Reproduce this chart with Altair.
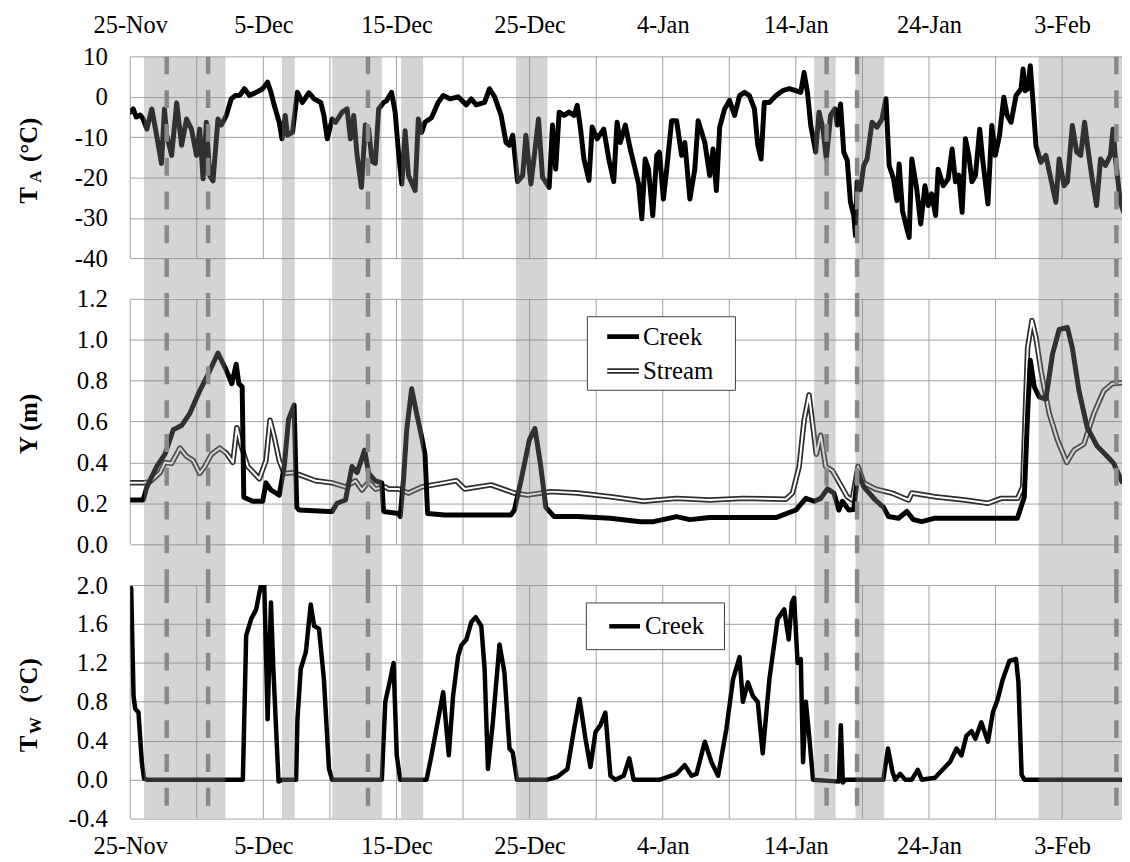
import altair as alt
import pandas as pd

# ---------------- data (days after 25-Nov, values) ----------------
BASE_DATE = "2012-11-25"

TA_DAY = [0.00, 0.22, 0.45, 0.75, 0.97, 1.25, 1.62, 2.01, 2.35, 2.57,
          2.74, 3.11, 3.49, 3.86, 4.23, 4.60, 4.98, 5.22, 5.47, 5.72,
          5.97, 6.22, 6.59, 6.84, 7.22, 7.59, 7.91, 8.21, 8.58, 8.96,
          9.46, 9.95, 10.32, 10.57, 10.82, 11.19, 11.40, 11.64, 11.81, 12.19,
          12.56, 12.93, 13.43, 13.81, 14.31, 14.55, 14.80, 15.17, 15.43, 15.92,
          16.29, 16.54, 16.79, 17.04, 17.37, 17.66, 17.91, 18.16, 18.41, 18.66,
          19.03, 19.25, 19.63, 19.90, 20.15, 20.40, 20.65, 20.90, 21.40, 21.64,
          21.89, 22.14, 22.63, 23.13, 23.51, 24.01, 24.63, 25.25, 25.62, 25.99,
          26.62, 26.99, 27.37, 27.86, 28.23, 28.49, 28.73, 29.10, 29.48, 29.72,
          30.10, 30.47, 30.67, 30.97, 31.47, 31.72, 31.96, 32.22, 32.59, 32.96,
          33.34, 33.58, 33.83, 34.08, 34.46, 34.70, 35.07, 35.57, 35.95, 36.32,
          36.57, 36.81, 37.19, 37.56, 37.93, 38.19, 38.43, 38.68, 38.93, 39.25,
          39.55, 39.75, 40.05, 40.30, 40.67, 41.04, 41.42, 41.66, 42.04, 42.41,
          42.66, 43.16, 43.53, 43.78, 44.03, 44.28, 44.65, 45.02, 45.40, 45.77,
          46.14, 46.51, 46.89, 47.14, 47.39, 47.63, 48.01, 48.51, 49.01, 49.50,
          50.00, 50.37, 50.62, 50.87, 51.12, 51.49, 51.74, 52.04, 52.29, 52.61,
          52.93, 53.11, 53.36, 53.60, 53.86, 54.10, 54.35, 54.48, 54.60, 54.85,
          55.10, 55.35, 55.72, 56.10, 56.47, 56.77, 57.01, 57.34, 57.59, 57.76,
          58.01, 58.34, 58.51, 58.71, 59.08, 59.38, 59.70, 59.95, 60.20, 60.50,
          60.69, 61.07, 61.44, 61.74, 61.99, 62.24, 62.49, 62.74, 62.99, 63.23,
          63.49, 63.81, 64.05, 64.43, 64.72, 64.98, 65.30, 65.62, 65.87, 66.17,
          66.54, 66.92, 67.07, 67.22, 67.41, 67.61, 67.78, 68.04, 68.41, 68.78,
          69.10, 69.53, 69.78, 70.15, 70.40, 70.77, 71.10, 71.40, 71.69, 71.94,
          72.26, 72.59, 72.89, 73.26, 73.63, 73.83, 74.01, 74.38, 74.63]
TA_VAL = [-3.8, -3.0, -5.0, -4.5, -5.5, -8.0, -3.0, -10.0, -16.5, -3.0,
          -9.5, -14.5, -1.5, -12.0, -5.5, -8.0, -14.5, -8.0, -20.3, -6.3,
          -19.5, -20.8, -5.5, -7.0, -4.6, -0.5, 0.3, 0.3, 2.0, 0.3,
          1.1, 2.0, 3.6, 1.1, -2.1, -6.3, -10.4, -4.6, -9.5, -8.8,
          1.1, -1.4, 1.0, -0.5, -1.4, -4.6, -10.4, -5.5, -6.3, -3.8,
          -3.0, -10.4, -4.6, -14.5, -22.4, -7.0, -8.0, -16.0, -16.5, -3.0,
          -1.4, -1.0, 1.1, -3.8, -13.7, -21.6, -8.4, -19.5, -23.2, -5.5,
          -8.8, -6.3, -5.2, -1.4, 0.3, -0.5, 0.0, -2.0, -0.5, -2.0,
          -1.4, 2.0, 0.0, -4.6, -11.3, -12.0, -9.5, -21.0, -19.5, -9.5,
          -21.6, -11.3, -5.5, -19.9, -22.4, -7.0, -17.9, -3.8, -4.6, -3.8,
          -4.6, -2.1, -8.0, -15.4, -20.7, -7.5, -10.4, -8.0, -15.4, -21.0,
          -6.3, -11.3, -7.0, -12.9, -17.9, -21.6, -30.2, -15.4, -17.9, -29.4,
          -14.5, -13.7, -25.3, -17.9, -5.9, -5.9, -14.5, -11.3, -25.3, -17.9,
          -5.9, -11.3, -19.5, -12.9, -23.2, -7.5, -3.0, -0.9, -4.6, 0.3,
          1.1, 0.3, -3.0, -12.0, -15.4, -1.4, -1.4, 0.3, 1.5, 2.0,
          1.5, 1.1, 6.0, 1.1, -7.1, -13.7, -3.8, -8.0, -15.4, -4.6,
          -3.0, -7.0, -1.8, -13.7, -15.7, -26.0, -29.4, -34.4, -21.0, -23.0,
          -17.0, -15.4, -6.3, -7.5, -5.5, -0.5, -17.0, -20.3, -25.7, -16.6,
          -28.2, -32.7, -34.8, -15.4, -22.8, -31.5, -22.0, -26.9, -24.0, -29.4,
          -17.9, -22.0, -20.3, -12.9, -21.0, -19.4, -28.6, -10.4, -14.5, -21.0,
          -19.5, -8.0, -16.0, -26.5, -7.1, -14.5, -9.6, -0.1, -4.6, -6.3,
          0.3, 2.0, 6.9, 1.5, 2.0, 7.7, 0.3, -12.1, -16.2, -14.5,
          -19.5, -26.1, -15.4, -22.0, -21.0, -7.1, -13.7, -14.5, -6.3, -12.9,
          -20.3, -26.9, -15.4, -17.0, -14.5, -8.0, -15.4, -26.1, -28.6]

CREEK_Y_DAY = [0.00, 0.97, 1.25, 1.99, 2.61, 3.23, 3.86, 4.48, 5.22, 5.84,
               6.59, 7.22, 7.63, 7.96, 8.16, 8.41, 8.53, 9.20, 9.95, 10.20,
               10.57, 11.19, 11.57, 11.89, 12.31, 12.51, 12.69, 14.93, 15.17, 15.54,
               16.17, 16.66, 17.04, 17.61, 17.91, 18.41, 18.90, 19.03, 20.15, 20.28,
               20.52, 20.77, 21.14, 21.51, 21.89, 22.14, 22.34, 23.63, 28.60, 28.86,
               29.35, 29.98, 30.40, 30.84, 31.22, 31.84, 33.58, 36.07, 38.31, 39.31,
               41.04, 42.04, 43.53, 48.51, 50.00, 50.75, 51.37, 51.87, 52.37, 52.86,
               53.23, 53.49, 53.98, 54.35, 54.67, 55.10, 55.97, 56.59, 56.96, 57.71,
               58.34, 58.83, 59.46, 60.45, 66.64, 67.16, 67.41, 67.61, 67.91, 68.28,
               68.78, 69.28, 69.78, 70.40, 70.77, 71.27, 71.89, 72.63, 73.38, 73.88,
               74.50]
CREEK_Y_VAL = [0.216, 0.216, 0.28, 0.38, 0.44, 0.56, 0.58, 0.64, 0.75, 0.83,
               0.935, 0.85, 0.785, 0.88, 0.785, 0.77, 0.23, 0.21, 0.21, 0.30,
               0.265, 0.24, 0.38, 0.61, 0.68, 0.18, 0.167, 0.16, 0.16, 0.20,
               0.216, 0.38, 0.35, 0.46, 0.346, 0.31, 0.30, 0.16, 0.15, 0.135,
               0.31, 0.56, 0.76, 0.64, 0.525, 0.44, 0.15, 0.143, 0.143, 0.167,
               0.31, 0.51, 0.566, 0.38, 0.18, 0.135, 0.135, 0.127, 0.11, 0.11,
               0.135, 0.12, 0.13, 0.13, 0.167, 0.224, 0.21, 0.224, 0.27, 0.25,
               0.167, 0.21, 0.167, 0.17, 0.354, 0.28, 0.216, 0.18, 0.135, 0.127,
               0.16, 0.12, 0.11, 0.127, 0.127, 0.23, 0.64, 0.90, 0.77, 0.72,
               0.71, 0.93, 1.05, 1.06, 0.96, 0.75, 0.57, 0.48, 0.43, 0.395,
               0.305]

STREAM_Y_DAY = [0.00, 0.97, 1.49, 2.24, 2.61, 3.11, 3.73, 4.23, 4.72, 5.22,
                5.60, 6.10, 6.72, 7.22, 7.71, 8.01, 8.34, 8.83, 9.70, 10.20,
                10.50, 10.82, 11.19, 11.57, 12.19, 12.69, 13.93, 15.17, 16.17, 16.92,
                17.41, 17.91, 18.41, 19.16, 19.40, 20.15, 20.90, 21.89, 23.63, 24.50,
                25.13, 27.11, 28.86, 29.85, 31.59, 33.58, 36.07, 38.56, 41.04, 43.53,
                46.02, 49.25, 49.75, 50.25, 50.62, 50.99, 51.29, 51.54, 51.87, 52.24,
                52.74, 53.23, 53.86, 54.23, 54.67, 55.10, 55.97, 57.22, 58.46, 58.71,
                60.45, 62.69, 64.43, 65.43, 66.66, 67.04, 67.41, 67.74, 68.04, 68.41,
                69.03, 69.65, 70.35, 70.90, 71.64, 72.39, 73.13, 73.75, 74.50]
STREAM_Y_VAL = [0.30, 0.30, 0.305, 0.35, 0.40, 0.395, 0.47, 0.43, 0.41, 0.346,
                0.38, 0.44, 0.47, 0.445, 0.40, 0.57, 0.48, 0.38, 0.32, 0.41,
                0.606, 0.525, 0.41, 0.346, 0.35, 0.34, 0.31, 0.30, 0.28, 0.31,
                0.265, 0.305, 0.27, 0.28, 0.27, 0.27, 0.25, 0.28, 0.30, 0.31,
                0.27, 0.29, 0.25, 0.24, 0.257, 0.25, 0.232, 0.21, 0.224, 0.216,
                0.224, 0.22, 0.25, 0.38, 0.606, 0.73, 0.574, 0.44, 0.533, 0.38,
                0.36, 0.305, 0.232, 0.216, 0.38, 0.30, 0.27, 0.25, 0.216, 0.25,
                0.232, 0.216, 0.20, 0.224, 0.224, 0.28, 0.96, 1.094, 1.01, 0.85,
                0.64, 0.51, 0.40, 0.46, 0.49, 0.64, 0.75, 0.785, 0.79]

TW_DAY = [0.07, 0.25, 0.37, 0.62, 0.87, 1.04, 1.25,
          8.34, 8.46, 8.71, 9.08, 9.46, 9.70, 9.87, 10.07, 10.32, 10.57, 10.75, 11.14, 11.42,
          12.46, 12.56, 12.81, 13.19, 13.56, 13.81, 14.18, 14.55, 14.93, 15.17,
          18.90, 19.16, 19.53, 19.78, 20.02, 20.28,
          22.26, 22.63, 23.13, 23.51, 23.93, 24.25, 24.63, 24.87, 25.25, 25.62,
          25.95, 26.37, 26.62, 26.87, 27.24, 27.74, 28.11, 28.49, 28.73, 29.05,
          31.34, 32.09, 32.84, 33.34, 33.75, 34.20, 34.57, 34.95, 35.32, 35.69,
          36.07, 36.44, 37.07, 37.49, 37.81,
          39.80, 41.04, 41.66, 42.16, 42.54, 43.16, 43.66, 44.16, 44.78, 45.28,
          45.77, 46.02, 46.40, 46.77, 47.14, 47.51, 48.01, 48.63, 49.13, 49.46,
          49.70, 49.87, 50.13, 50.37, 50.54, 50.75, 51.00, 51.29,
          53.23, 53.38, 53.53, 53.73,
          56.57, 56.92, 57.26, 57.46, 57.84, 58.21, 58.71, 59.16, 59.46,
          60.45, 61.07, 61.57, 62.07, 62.44, 62.81, 63.19, 63.49, 63.93, 64.43,
          64.80, 65.17, 65.54, 66.04, 66.54, 66.72, 66.96, 67.16, 74.63]
TW_VAL = [1.97, 0.86, 0.73, 0.69, 0.18, 0.01, 0.0,
          0.0, 0.0, 1.48, 1.65, 1.75, 1.92, 2.03, 2.0, 0.62, 1.82, 1.14, -0.02, 0.0,
          0.0, 0.62, 1.14, 1.31, 1.80, 1.58, 1.55, 1.03, 0.11, 0.0,
          0.0, 0.8, 1.03, 1.2, 0.25, 0.0,
          0.0, 0.25, 0.62, 0.9, 0.25, 0.86, 1.27, 1.38, 1.44, 1.62,
          1.67, 1.58, 1.14, 0.11, 0.59, 1.39, 1.1, 0.32, 0.28, 0.0,
          0.0, 0.03, 0.11, 0.52, 0.83, 0.42, 0.13, 0.49, 0.56, 0.69,
          0.04, 0.0, 0.04, 0.22, 0.0,
          0.0, 0.06, 0.15, 0.04, 0.06, 0.39, 0.18, 0.04, 0.52, 1.03,
          1.26, 0.8, 1.0, 0.86, 0.8, 0.27, 1.03, 1.65, 1.75, 1.44,
          1.82, 1.87, 1.2, 1.24, 0.18, 0.8, 0.45, 0.0,
          -0.02, 0.56, -0.03, 0.0,
          0.0, 0.32, 0.08, 0.0, 0.06, 0.0, 0.0, 0.1, 0.0,
          0.02, 0.11, 0.18, 0.32, 0.25, 0.45, 0.5, 0.42, 0.59, 0.39,
          0.69, 0.83, 1.03, 1.22, 1.24, 1.0, 0.05, 0.0, 0.0]

# shaded periods and dashed markers (days after 25-Nov)
BAND_START = [1.04, 11.40, 15.17, 20.35, 28.98, 51.37, 54.48, 68.23]
BAND_END = [7.16, 12.36, 18.90, 22.00, 31.34, 52.99, 56.64, 76.00]
DASH_DAY = [2.74, 5.85, 17.86, 52.31, 54.60, 74.08]

TICK_DAY = [0, 10, 20, 30, 40, 50, 60, 70]
GRID_DAY = [0, 5, 10, 15, 20, 25, 30, 35, 40, 45, 50, 55, 60, 65, 70]
X_END_DAY = 74.5

TA_TICKS = [-40, -30, -20, -10, 0, 10]
Y_TICKS = [0.0, 0.2, 0.4, 0.6, 0.8, 1.0, 1.2]
TW_TICKS = [-0.4, 0.0, 0.4, 0.8, 1.2, 1.6, 2.0]

assert len(TA_DAY) == len(TA_VAL)
assert len(CREEK_Y_DAY) == len(CREEK_Y_VAL)
assert len(STREAM_Y_DAY) == len(STREAM_Y_VAL)
assert len(TW_DAY) == len(TW_VAL)

# ---------------- helpers ----------------
base_ts = pd.Timestamp(BASE_DATE)


def times(days):
    return [base_ts + pd.Timedelta(days=float(d)) for d in days]


def dt(ts):
    return alt.DateTime(year=ts.year, month=ts.month, date=ts.day,
                        hours=ts.hour, minutes=ts.minute)


SERIF = "Liberation Serif"
GRID = "#a0a0a0"
W = 998
xs = alt.Scale(domain=[dt(base_ts), dt(base_ts + pd.Timedelta(days=X_END_DAY))])
tick_vals = [dt(t) for t in times(TICK_DAY)]
ONE = pd.DataFrame({"k": [0]})


def x_axis(orient, pad):
    return alt.Axis(orient=orient, values=tick_vals, format="%-d-%b", title=None,
                    grid=False, ticks=False, domain=False, labelFlush=False,
                    labelOverlap=False, labelPadding=pad, labelFontSize=24.5,
                    labelFont=SERIF, labelColor="black")


def y_axis(values, fmt):
    return alt.Axis(values=values, format=fmt, title=None, grid=True,
                    gridColor=GRID, gridWidth=1, ticks=False, domain=False,
                    labelPadding=23, labelFontSize=25, labelFont=SERIF,
                    labelColor="black", labelFlush=False, labelOverlap=False,
                    labelExpr="replace(datum.label, '\u2212', '-')")


def text_mark(s, x, y, size, bold=True, angle=270, align="center"):
    return alt.Chart(ONE).mark_text(
        text=s, font=SERIF, fontSize=size,
        fontWeight="bold" if bold else "normal", angle=angle, align=align,
        baseline="middle", color="black").encode(x=alt.value(x), y=alt.value(y))


def box(x1, x2, y1, y2):
    return alt.Chart(ONE).mark_rect(fill="white", stroke="#404040", strokeWidth=1).encode(
        x=alt.value(x1), x2=alt.value(x2), y=alt.value(y1), y2=alt.value(y2))


def seg(x1, x2, y, color, w):
    return alt.Chart(ONE).mark_rule(color=color, strokeWidth=w).encode(
        x=alt.value(x1), x2=alt.value(x2), y=alt.value(y))


def series(days, vals, color, width):
    return (pd.DataFrame({"t": times(days), "v": vals}), color, width)


def panel(domain, ticks, fmt, height, line_specs, extra_layers, xaxis):
    ys = alt.Scale(domain=domain, nice=False, zero=False)
    yaxis = y_axis(ticks, fmt)
    lo, hi = domain

    def X(field):
        return alt.X(field, type="temporal", scale=xs, axis=xaxis)

    def Y(field):
        return alt.Y(field, type="quantitative", scale=ys, axis=yaxis)

    grid_df = pd.DataFrame({"t": times(GRID_DAY), "a": ticks[-1], "b": ticks[0]})
    band_df = pd.DataFrame({"s": times(BAND_START), "e": times(BAND_END), "a": hi, "b": lo})
    dash_df = pd.DataFrame({"t": times(DASH_DAY), "a": hi, "b": lo})

    lines = [alt.Chart(df).mark_line(color=c, strokeWidth=w, clip=True,
                                     strokeJoin="round", strokeCap="round").encode(
        x=X("t"), y=Y("v")) for df, c, w in line_specs]
    vgrid = alt.Chart(grid_df).mark_rule(color=GRID, strokeWidth=1).encode(
        x=X("t"), y=Y("a"), y2="b")
    bands = alt.Chart(band_df).mark_rect(color="#888888", opacity=0.36, clip=True).encode(
        x=X("s"), x2="e", y=Y("a"), y2="b")
    dashes = alt.Chart(dash_df).mark_rule(color="#888888", strokeWidth=4.5,
                                          strokeDash=[18, 16], clip=True).encode(
        x=X("t"), y=Y("a"), y2="b")
    return alt.layer(vgrid, *lines, bands, dashes, *extra_layers).properties(
        width=W, height=height)


# ---------------- panels ----------------
top = panel([-50, 10], TA_TICKS, "d", 244,
            [series(TA_DAY, TA_VAL, "black", 5)],
            [text_mark("T", -102, 140, 25),
             text_mark("A", -95, 121, 17),
             text_mark("(°C)", -102, 84, 25)],
            x_axis("top", 19))

mid = panel([-0.2, 1.2], Y_TICKS, ".1f", 288,
            [series(STREAM_Y_DAY, STREAM_Y_VAL, "#2e2e2e", 5.5),
             series(STREAM_Y_DAY, STREAM_Y_VAL, "white", 2),
             series(CREEK_Y_DAY, CREEK_Y_VAL, "black", 5)],
            [text_mark("Y (m)", -102, 126, 25),
             box(460, 609, 18, 92),
             seg(480, 512, 38, "black", 5),
             text_mark("Creek", 516, 38, 25, bold=False, angle=0, align="left"),
             seg(480, 512, 72.5, "#2e2e2e", 5.5),
             seg(480, 512, 72.5, "white", 2),
             text_mark("Stream", 516, 72.5, 25, bold=False, angle=0, align="left")],
            None)

bot = panel([-0.4, 2.0], TW_TICKS, ".1f", 235,
            [series(TW_DAY, TW_VAL, "black", 4.5)],
            [text_mark("T", -102, 160, 25),
             text_mark("W", -95, 141.5, 17),
             text_mark("(°C)", -102, 96, 25),
             box(459, 598, 18, 65),
             seg(482, 513, 41.5, "black", 4.5),
             text_mark("Creek", 518, 41.5, 25, bold=False, angle=0, align="left")],
            x_axis("bottom", 16))

chart = alt.vconcat(top, mid, bot, spacing=0, bounds="flush").properties(
    padding={"left": 9, "top": 2, "right": 0, "bottom": 0},
    background="white",
).configure_view(strokeWidth=0)

chart.save("out.html", embed_options={"renderer": "svg", "actions": False})
